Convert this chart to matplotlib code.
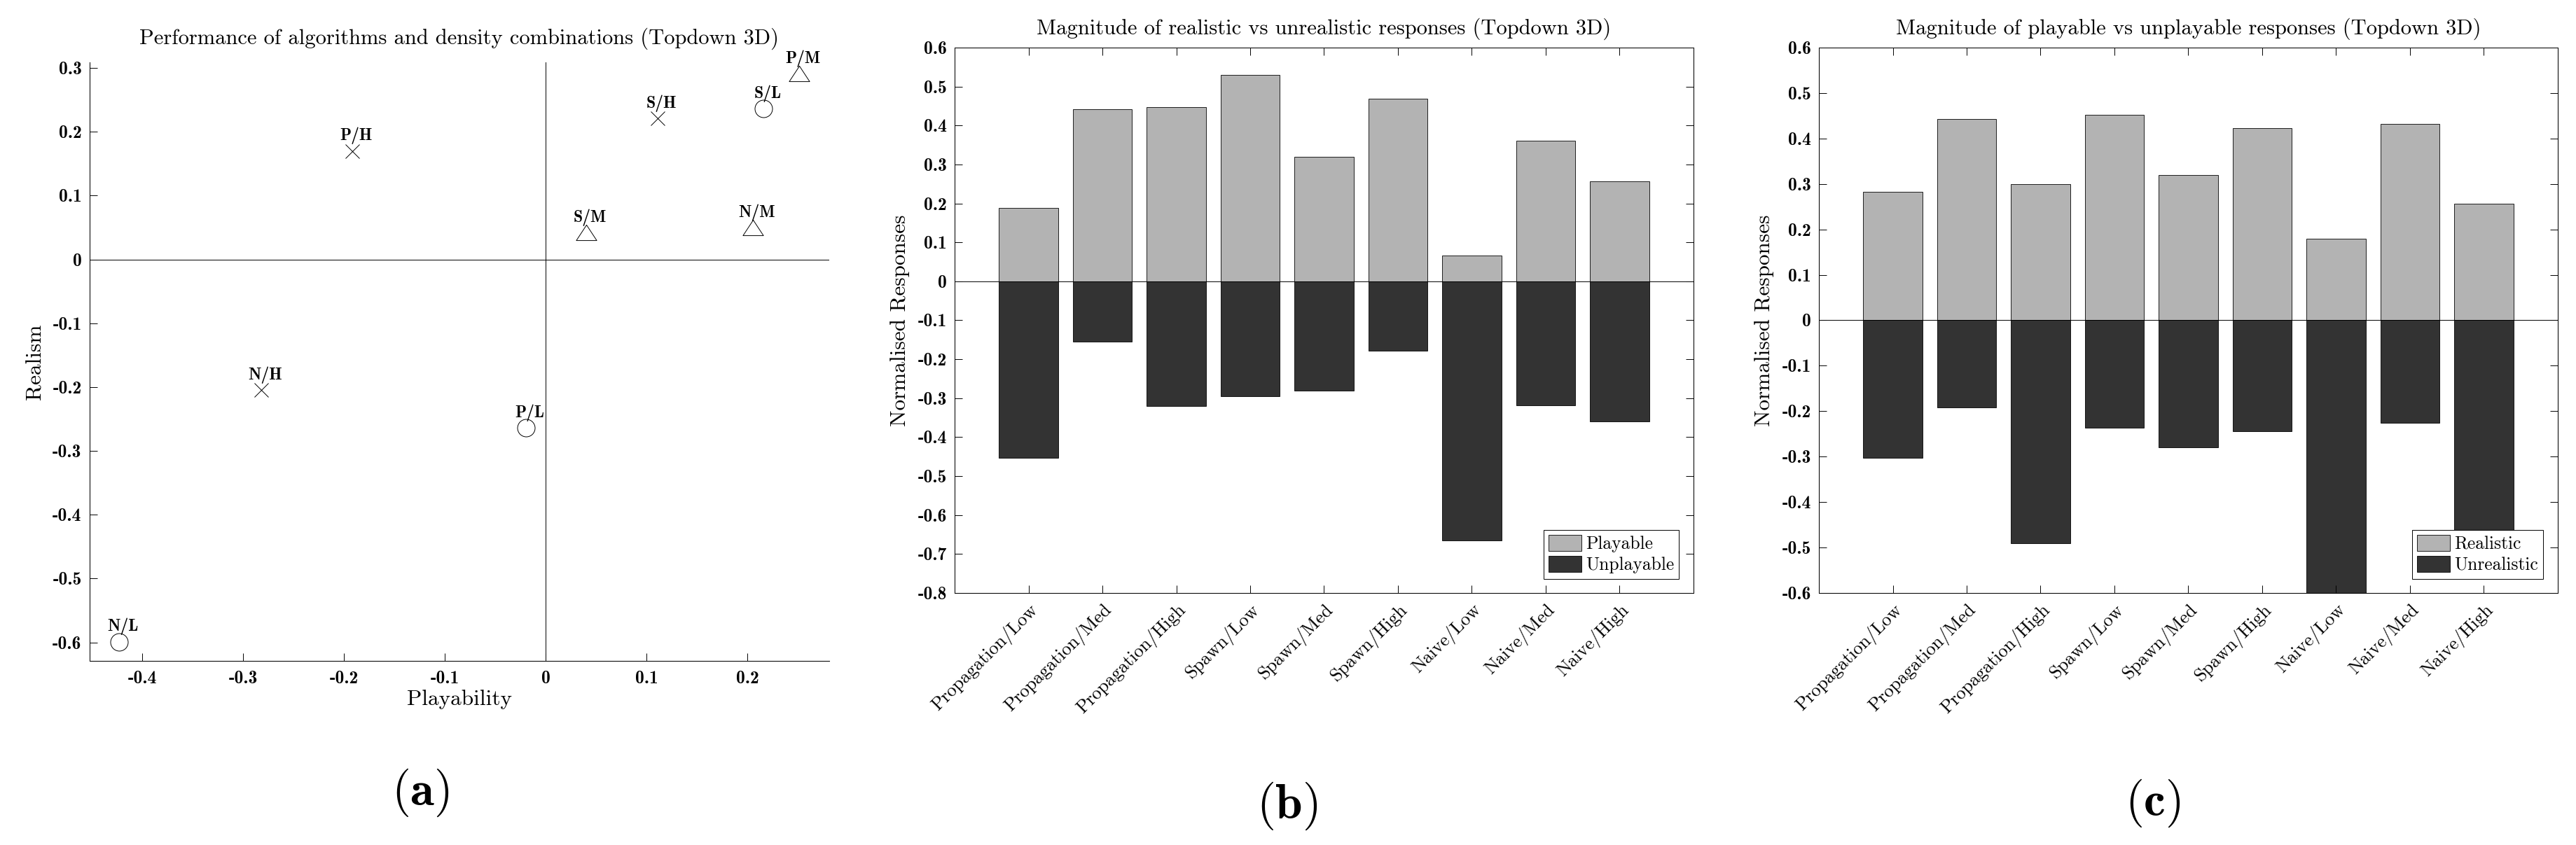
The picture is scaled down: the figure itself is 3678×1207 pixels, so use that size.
import matplotlib
matplotlib.use("Agg")
import matplotlib.pyplot as plt
import numpy as np

plt.rcParams['font.family'] = ['cmr10', 'DejaVu Serif']
plt.rcParams['mathtext.fontset'] = 'cm'
plt.rcParams['axes.unicode_minus'] = False
plt.rcParams['axes.formatter.use_mathtext'] = False
plt.rcParams['axes.linewidth'] = 0.75

# scatter (a)
pt_labels = ['P/L', 'P/M', 'P/H', 'S/L', 'S/M', 'S/H', 'N/L', 'N/M', 'N/H']
playability = [-0.020, 0.251, -0.192, 0.216, 0.040, 0.111, -0.423, 0.205, -0.282]
realism = [-0.264, 0.291, 0.170, 0.236, 0.042, 0.221, -0.599, 0.050, -0.205]
pt_markers = ['o', '^', 'x', 'o', '^', 'x', 'o', '^', 'x']

# bars (b) and (c)
categories = ['Propagation/Low', 'Propagation/Med', 'Propagation/High',
              'Spawn/Low', 'Spawn/Med', 'Spawn/High',
              'Naive/Low', 'Naive/Med', 'Naive/High']
playable = [0.188, 0.441, 0.447, 0.530, 0.320, 0.468, 0.066, 0.361, 0.257]
unplayable = [-0.454, -0.155, -0.320, -0.295, -0.281, -0.178, -0.665, -0.318, -0.360]
realistic = [0.283, 0.443, 0.299, 0.452, 0.320, 0.423, 0.179, 0.432, 0.257]
unrealistic = [-0.302, -0.192, -0.490, -0.236, -0.280, -0.244, -0.602, -0.226, -0.539]

light = '#b3b3b3'
dark = '#333333'
tick_fs = 18.5
title_fs = 22
label_fs = 22.5
cat_fs = 19
bold = 'cmb10'

# flatter triangle like matlab's
tri = [(0, 0.76), (-1, -0.76), (1, -0.76), (0, 0.76)]

fig = plt.figure(figsize=(36.78, 12.07), dpi=100)


def fmt(t):
    return '0' if abs(t) < 1e-9 else f'{t:g}'


# ---- (a)
ax = fig.add_axes([0.03472, 0.2179, 0.2872, 0.7084])
ax.axhline(0, color='black', lw=0.7)
ax.axvline(0, color='black', lw=0.7)
for x, y, m, lab in zip(playability, realism, pt_markers, pt_labels):
    if m == 'o':
        ax.plot(x, y, marker='o', ms=18, mfc='none', mec='black', mew=0.7, ls='none')
    elif m == '^':
        ax.plot(x, y, marker=tri, ms=21, mfc='none', mec='black', mew=0.7, ls='none')
    else:
        ax.plot(x, y, marker='x', ms=14, mfc='none', mec='black', mew=0.7, ls='none')
    ax.annotate(lab, (x, y), xytext=(4, 11), textcoords='offset points',
                ha='center', va='baseline', fontsize=17, fontfamily=bold)
ax.set_xlim(-0.4525, 0.281)
ax.set_ylim(-0.629, 0.309)
xt = np.round(np.arange(-0.4, 0.21, 0.1), 1)
yt = np.round(np.arange(-0.6, 0.31, 0.1), 1)
ax.set_xticks(xt)
ax.set_yticks(yt)
ax.set_xticklabels([fmt(t) for t in xt], fontfamily=bold, fontsize=tick_fs)
ax.set_yticklabels([fmt(t) for t in yt], fontfamily=bold, fontsize=tick_fs)
ax.spines['top'].set_visible(False)
ax.spines['right'].set_visible(False)
ax.tick_params(direction='in', length=8, width=0.7)
ax.tick_params(axis='x', pad=10)
ax.tick_params(axis='y', pad=8)
ax.set_xlabel('Playability', fontsize=label_fs, labelpad=3)
ax.set_ylabel('Realism', fontsize=label_fs, labelpad=8)
ax.set_title('Performance of algorithms and density combinations (Topdown 3D)',
             fontsize=title_fs, pad=18.5)


def bar_panel(rect, top, bottom, names, ylim, title):
    ax = fig.add_axes(rect)
    xs = np.arange(1, len(categories) + 1)
    ax.bar(xs, top, width=0.8, color=light, edgecolor='black', lw=0.6, label=names[0])
    ax.bar(xs, bottom, width=0.8, color=dark, edgecolor='black', lw=0.6, label=names[1])
    ax.axhline(0, color='black', lw=0.7)
    ax.set_xlim(0, 10)
    ax.set_ylim(*ylim)
    ticks = np.round(np.arange(ylim[0], ylim[1] + 0.01, 0.1), 1)
    ax.set_yticks(ticks)
    ax.set_yticklabels([fmt(t) for t in ticks], fontfamily=bold, fontsize=tick_fs)
    ax.set_xticks(xs)
    ax.set_xticklabels(categories, rotation=45, ha='right', va='top',
                       rotation_mode='anchor', fontsize=cat_fs)
    ax.tick_params(direction='in', length=8, width=0.7, top=True, right=True)
    ax.tick_params(axis='y', pad=8)
    ax.tick_params(axis='x', pad=8)
    ax.set_ylabel('Normalised Responses', fontsize=label_fs, labelpad=8)
    ax.set_title(title, fontsize=title_fs, pad=13.5)
    leg = ax.legend(loc='lower right', fontsize=18.4, fancybox=False, framealpha=1,
                    edgecolor='black', borderaxespad=0.8, handlelength=1.84,
                    handleheight=1.0, handletextpad=0.25, labelspacing=0.2,
                    borderpad=0.28)
    leg.get_frame().set_linewidth(0.7)
    return ax


bar_panel([0.3706, 0.2983, 0.2868, 0.6454], playable, unplayable,
          ['Playable', 'Unplayable'], (-0.8, 0.6),
          'Magnitude of realistic vs unrealistic responses (Topdown 3D)')
bar_panel([0.7061, 0.2983, 0.2868, 0.6454], realistic, unrealistic,
          ['Realistic', 'Unrealistic'], (-0.6, 0.6),
          'Magnitude of playable vs unplayable responses (Topdown 3D)')

fig.text(600 / 3678, 1 - 1132 / 1207, r'$(\mathbf{a})$', fontsize=50, ha='center', va='center')
fig.text(1838 / 3678, 1 - 1151 / 1207, r'$(\mathbf{b})$', fontsize=50, ha='center', va='center')
fig.text(3074 / 3678, 1 - 1147 / 1207, r'$(\mathbf{c})$', fontsize=50, ha='center', va='center')

fig.savefig('out.png', dpi=100, facecolor='white')
